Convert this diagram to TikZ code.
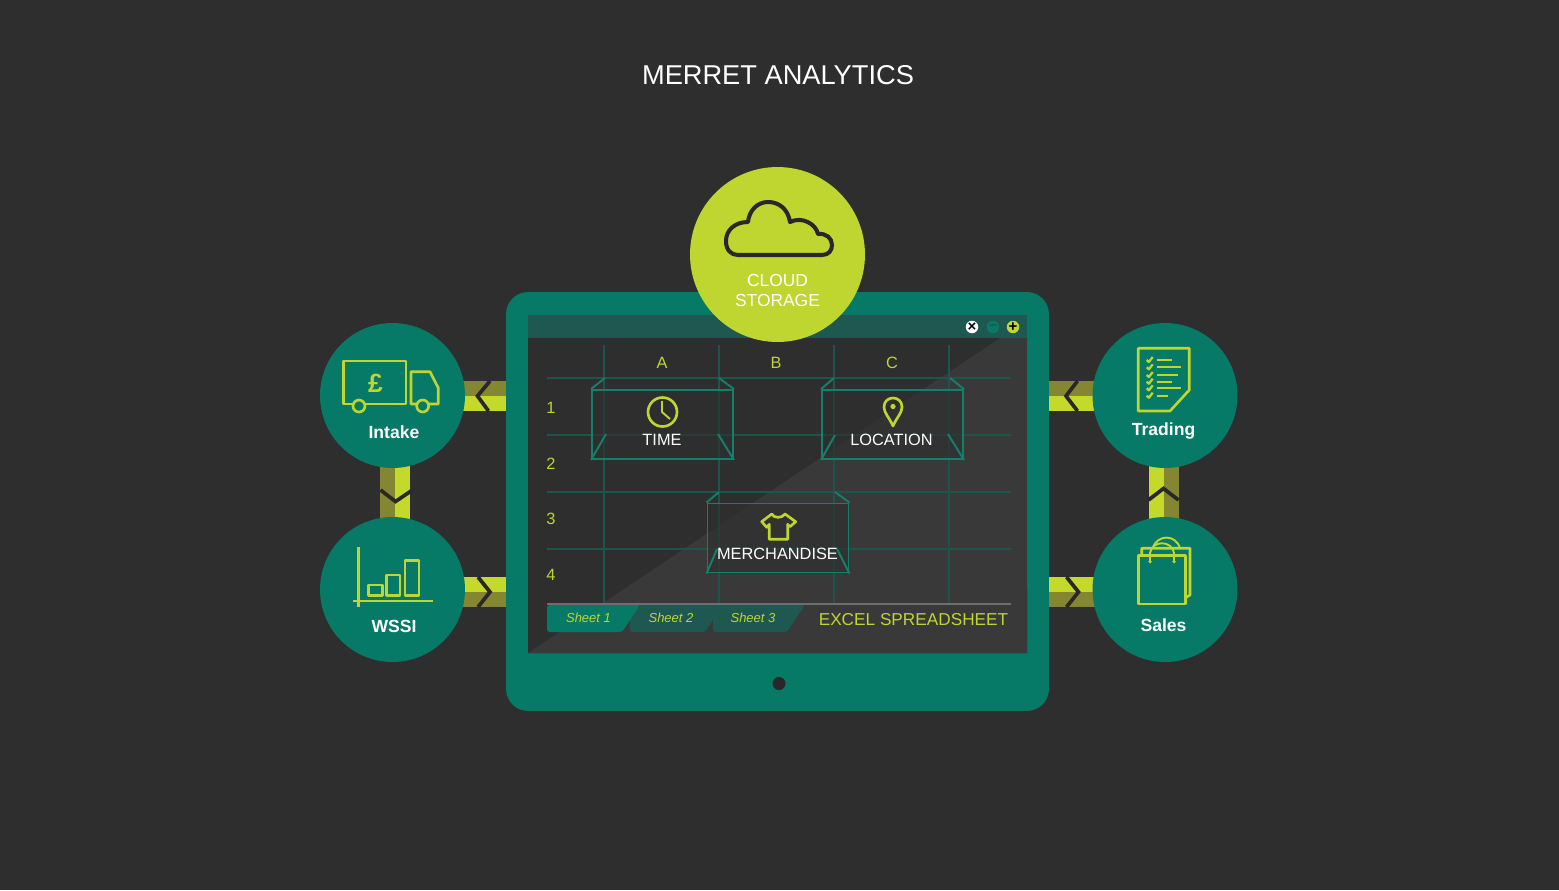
\documentclass[tikz,border=0pt]{standalone}
\usepackage{fontspec}
\setmainfont{Liberation Sans}
\usetikzlibrary{arrows.meta}
\definecolor{slate}{HTML}{2F2E2F}
\definecolor{slatelight}{HTML}{3A393A}
\definecolor{merretgreen}{HTML}{067A66}
\definecolor{barteal}{HTML}{1F5850}
\definecolor{gridteal}{HTML}{1D544C}
\definecolor{boxteal}{HTML}{157F6E}
\definecolor{lime}{HTML}{BED62F}
\definecolor{bandlime}{HTML}{C5D92B}
\definecolor{bandolive}{HTML}{858632}
\definecolor{chevdark}{HTML}{292728}
\definecolor{rulegrey}{HTML}{6E6E6E}
\tikzset{
	hub/.style={circle,fill=merretgreen,minimum size=2.9cm,inner sep=0pt},
	hublabel/.style={text=white,font=\fontsize{10}{12}\selectfont\bfseries,inner sep=0pt},
	boxlabel/.style={text=white,font=\fontsize{9.3}{11}\selectfont,inner sep=0pt},
	gridlabel/.style={text=lime,font=\fontsize{9.3}{11}\selectfont,inner sep=0pt},
	sheetlabel/.style={text=lime,font=\fontsize{7.4}{9}\selectfont\itshape,inner sep=0pt},
	winbtn/.style={circle,minimum size=0.25cm,inner sep=0pt,font=\fontsize{8.5}{8.5}\selectfont\bfseries},
	gridline/.style={gridteal,line width=0.6pt},
	factbox/.style={draw=boxteal,line width=1.1pt,fill=slate,fill opacity=0.6,text opacity=1,minimum width=2.82cm,minimum height=1.38cm,inner sep=0pt},
	boxedge/.style={boxteal,line width=1.1pt},
	chevron/.style={chevdark,line width=2.1pt,miter limit=10},
	icon/.style={lime,line width=1.5pt,line join=round},
	thinicon/.style={lime,line width=1.1pt,line join=round}
}
\begin{document}
\begin{tikzpicture}[x=0.02cm,y=-0.02cm]
	\fill[slate] (0,0) rectangle (1559,890);
	\node[text=white,font=\fontsize{15.5}{18}\selectfont,inner sep=0pt] (title) at (778,75) {MERRET ANALYTICS};
	% hubs are placed here, drawn after the bands
	\coordinate (intakepos) at (392.5,395.5);
	\coordinate (wssipos) at (392.5,589.5);
	\coordinate (tradingpos) at (1165,395.5);
	\coordinate (salespos) at (1165,589.5);
	\coordinate (wssiarm) at (392.5,591.5);
	\coordinate (salesarm) at (1165,591.5);
	\node[fill=merretgreen,rounded corners=0.44cm,minimum width=10.86cm,minimum height=8.38cm,inner sep=0pt] (tablet) at (777.5,501.5) {};
	% bands
	\fill[bandolive] ([yshift=0.3cm]intakepos) rectangle (tablet.west |- intakepos);
	\fill[bandlime] (intakepos) rectangle ([yshift=-0.3cm]intakepos -| tablet.west);
	\fill[bandlime] ([yshift=0.3cm]wssiarm) rectangle (tablet.west |- wssiarm);
	\fill[bandolive] (wssiarm) rectangle ([yshift=-0.3cm]wssiarm -| tablet.west);
	\fill[bandolive] ([yshift=0.3cm]tradingpos) rectangle (tablet.east |- tradingpos);
	\fill[bandlime] (tradingpos) rectangle ([yshift=-0.3cm]tradingpos -| tablet.east);
	\fill[bandlime] ([yshift=0.3cm]salesarm) rectangle (tablet.east |- salesarm);
	\fill[bandolive] (salesarm) rectangle ([yshift=-0.3cm]salesarm -| tablet.east);
	\fill[bandolive] ([xshift=-0.25cm]intakepos) rectangle ([xshift=0.05cm]wssipos);
	\fill[bandlime] ([xshift=0.05cm]intakepos) rectangle ([xshift=0.35cm]wssipos);
	\fill[bandlime] ([xshift=-0.33cm]tradingpos) rectangle ([xshift=-0.03cm]salespos);
	\fill[bandolive] ([xshift=-0.03cm]tradingpos) rectangle ([xshift=0.27cm]salespos);
	% chevrons
	\draw[chevron] (490,381) -- (477.5,396) -- (488.5,411);
	\draw[chevron] (478,577) -- (490,592) -- (478,607);
	\draw[chevron] (380.5,490) -- (395.5,501.5) -- (411,491);
	\draw[chevron] (1077.5,381) -- (1066,396) -- (1077.5,411);
	\draw[chevron] (1066.5,577) -- (1078.5,592) -- (1066.5,607);
	\draw[chevron] (1148.5,500) -- (1163.5,488.5) -- (1178.5,500);
	% screen
	\node[fill=slate,minimum width=9.98cm,minimum height=6.76cm,inner sep=0pt] (screen) at (777.5,484) {};
	\fill[slatelight] (screen.south west) -- (1000,338) -- (1027,338) -- (screen.south east) -- cycle;
	\fill[barteal] (screen.north west) rectangle (1027,338);
	\foreach \y in {378,435,492,549}
		\draw[gridline] (547,\y) -- (1011,\y);
	\foreach \x in {604,719,834,949}
		\draw[gridline] (\x,345) -- (\x,604);
	\node[gridlabel] (colA) at (662,363) {A};
	\node[gridlabel] (colB) at (776,363) {B};
	\node[gridlabel] (colC) at (892,363) {C};
	\node[gridlabel] (row1) at (551,408) {1};
	\node[gridlabel] (row2) at (551,464) {2};
	\node[gridlabel] (row3) at (551,519) {3};
	\node[gridlabel] (row4) at (551,575) {4};
	% window buttons
	\node[winbtn,fill=white,text=black] (btnclose) at (972,327) {×};
	\node[winbtn,fill=merretgreen,text=barteal] (btnmin) at (993,327) {–};
	\node[winbtn,fill=lime,text=black] (btnmax) at (1013,327) {+};
	% fact boxes
	\node[factbox] (timebox) at (662.5,424.5) {};
	\draw[boxedge] (timebox.north west) -- (605,378) (timebox.north east) -- (719,378);
	\draw[boxedge] (timebox.south west) -- (606,434) (timebox.south east) -- (718,434);
	\node[factbox] (locationbox) at (892.5,424.5) {};
	\draw[boxedge] (locationbox.north west) -- (834,378) (locationbox.north east) -- (950,378);
	\draw[boxedge] (locationbox.south west) -- (835,435) (locationbox.south east) -- (948,434);
	\node[factbox] (merchbox) at (778,538) {};
	\draw[boxedge] (merchbox.north west) -- (719,492) (merchbox.north east) -- (835,492);
	\draw[boxedge] (merchbox.south west) -- (717,549) (merchbox.south east) -- (837,549);
	\node[boxlabel] (timelabel) at (662,440) {TIME};
	\node[boxlabel] (locationlabel) at (891.5,440) {LOCATION};
	\node[boxlabel] (merchlabel) at (777.5,554) {MERCHANDISE};
	% clock
	\draw[icon] (662.5,412) circle (14.5);
	\draw[thinicon] (662,401) -- (662,412) -- (670,419);
	% pin
	\draw[icon] (893,426) .. controls (889,417) and (884,413) .. (884,407) .. controls (884,395) and (902,395) .. (902,407) .. controls (902,413) and (897,417) .. (893,426) -- cycle;
	\fill[lime] (893,406.5) circle (2.6);
	% shirt
	\draw[icon] (761.7,521.7) -- (771.7,514) .. controls (774,518.5) and (782,518.5) .. (785,514) -- (795.7,521.7) -- (790,526.7) -- (787.7,524.3) -- (787.7,539.3) -- (769.3,539.3) -- (769.3,524.3) -- (766.7,527.3) -- cycle;
	% sheet tabs
	\fill[barteal,rounded corners=1.5pt] (713,605) -- (805,605) -- (787,632) -- (713,632) -- cycle;
	\fill[barteal,rounded corners=1.5pt] (630,605) -- (723,605) -- (705,632) -- (630,632) -- cycle;
	\fill[merretgreen,rounded corners=1.5pt] (547,605) -- (640,605) -- (622,632) -- (547,632) -- cycle;
	\draw[rulegrey,line width=1pt] (547,604) -- (1011,604);
	\node[sheetlabel] (sheet1) at (588.5,618) {Sheet 1};
	\node[sheetlabel] (sheet2) at (671,618) {Sheet 2};
	\node[sheetlabel] (sheet3) at (753,618) {Sheet 3};
	\node[text=lime,font=\fontsize{9.8}{12}\selectfont,inner sep=0pt] (excel) at (913.5,620) {EXCEL SPREADSHEET};
	\node[circle,fill=chevdark,minimum size=0.26cm,inner sep=0pt] (camera) at (779,683.5) {};
	% cloud
	\node[circle,fill=lime,minimum size=3.5cm,inner sep=0pt] (cloud) at (777.5,254.5) {};
	\draw[chevdark,line width=2.3pt,line join=round] (738,255) -- (822,255) .. controls (829,255) and (832,250) .. (832,245) .. controls (832,238) and (826,233) .. (818,234) .. controls (816,224) and (802,216) .. (790,222) .. controls (788,209) and (779,202) .. (768,202) .. controls (757,202) and (749,211) .. (748,222) .. controls (735,222) and (726,230) .. (726,241) .. controls (726,250) and (731,255) .. (738,255) -- cycle;
	\node[text=white,font=\fontsize{9.9}{11}\selectfont,align=center,inner sep=0pt] (cloudlabel) at (777.5,290.5) {CLOUD\\[0.3pt]STORAGE};
	% hubs
	\node[hub] (intake) at (intakepos) {};
	\node[hub] (wssi) at (wssipos) {};
	\node[hub] (trading) at (tradingpos) {};
	\node[hub] (sales) at (salespos) {};
	\node[hublabel] (intakelabel) at (394,432) {Intake};
	\node[hublabel] (wssilabel) at (394,626) {WSSI};
	\node[hublabel] (tradinglabel) at (1163.5,431) {Trading};
	\node[hublabel] (saleslabel) at (1163.5,625) {Sales};
	% truck
	\draw[icon] (343.3,361) rectangle (406,404);
	\draw[icon] (411,404) -- (411,371.7) -- (430,371.7) -- (438.3,388) -- (438.3,404) -- cycle;
	\filldraw[icon,fill=merretgreen] (359,406) circle (6);
	\filldraw[icon,fill=merretgreen] (422.7,406) circle (6);
	\node[text=lime,font=\fontsize{15}{15}\selectfont\bfseries,inner sep=0pt] (pound) at (375.5,383.5) {£};
	% chart
	\draw[icon] (358.7,547) -- (358.7,607);
	\draw[icon] (352.7,601) -- (432.7,601);
	\draw[icon] (368.3,585) rectangle (382.3,595.7);
	\draw[icon] (386.7,575) rectangle (400,595.7);
	\draw[icon] (405,560.7) rectangle (419,595.7);
	% checklist
	\draw[icon] (1138.3,348.3) -- (1189.3,348.3) -- (1189.3,390) -- (1170,411) -- (1138.3,411) -- cycle;
	\foreach \y/\e in {360/1171.7,367.3/1180.7,375/1178.3,381.7/1171.7,388.3/1180.7,395.7/1167.7}{
		\draw[thinicon,line width=1.3pt] (1146.7,\y) -- (1148.9,\y+2) -- (1152.7,\y-3);
		\draw[thinicon] (1156.7,\y) -- (\e,\y);
	}
	% bag
	\draw[icon] (1141.7,555) -- (1141.7,548.3) -- (1190,548.3) -- (1190,595) -- (1185.7,597.7);
	\draw[thinicon] (1152.7,548.3) .. controls (1157,534) and (1176,534) .. (1180,548.3);
	\draw[icon] (1138.3,555.7) rectangle (1185.5,604);
	\draw[thinicon] (1150,561.7) -- (1150,553) .. controls (1152,540) and (1172,540) .. (1174,553) -- (1174,561.7);
	\fill[lime] (1150,561.7) circle (1.8) (1174,561.7) circle (1.8);
\end{tikzpicture}
\end{document}
